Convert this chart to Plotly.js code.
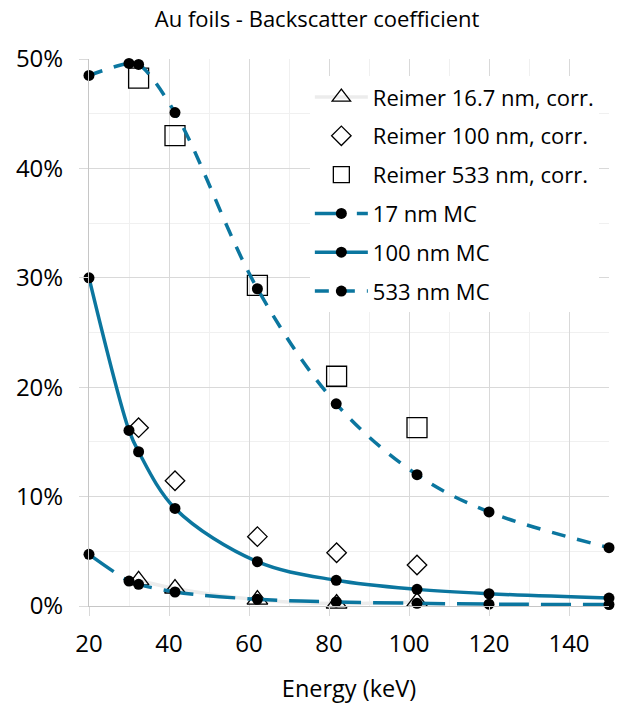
<!DOCTYPE html>
<html><head><meta charset="utf-8">
<script src="https://cdn.plot.ly/plotly-3.0.1.min.js"></script>
<style>html,body{margin:0;padding:0;background:#fff}</style>
</head><body>
<div id="chart" style="width:617px;height:706px"></div>
<script>
// Monte Carlo energies (keV)
const energyMC = [20, 30, 32.4, 41.5, 62.1, 81.8, 102, 120, 150];
const mc17  = [0.0472, 0.0228, 0.0198, 0.0128, 0.0061, 0.0037, 0.0025, 0.0017, 0.0013];
const mc100 = [0.300, 0.1605, 0.141, 0.0892, 0.0405, 0.0235, 0.0152, 0.0112, 0.0072];
const mc533 = [0.485, 0.496, 0.495, 0.451, 0.290, 0.1848, 0.120, 0.086, 0.0533];
// Reimer measurements (keV)
const energyReimer = [32.4, 41.5, 62.1, 81.9, 102];
const reimer16  = [0.0235, 0.016, 0.0058, 0.0022, 0.0038];
const reimer100 = [0.163, 0.1145, 0.0634, 0.0487, 0.0375];
const reimer533 = [0.4825, 0.430, 0.293, 0.210, 0.163];
const names = ['Reimer 16.7 nm, corr.', 'Reimer 100 nm, corr.', 'Reimer 533 nm, corr.', '17 nm MC', '100 nm MC', '533 nm MC'];
const xTicks = [20, 40, 60, 80, 100, 120, 140];

const blue = '#0B769F';
const FONT = 'Open Sans, sans-serif';
const mcMarker = {symbol: 'circle', size: 11, color: '#000000'};

const traces = [
  {x: energyReimer, y: reimer16, name: names[0], mode: 'lines+markers', legendgroup: 'a',
   line: {color: '#ececec', width: 3.5, shape: 'spline'},
   marker: {symbol: 'triangle-up-open', size: 18, color: '#000000', line: {width: 1.3, color: '#000000'}}},
  {x: energyReimer, y: reimer100, name: names[1], mode: 'markers', legendgroup: 'b',
   marker: {symbol: 'diamond-open', size: 15, color: '#000000', line: {width: 1.3, color: '#000000'}}},
  {x: energyReimer, y: reimer533, name: names[2], mode: 'markers', legendgroup: 'c',
   marker: {symbol: 'square-open', size: 20, color: '#000000', line: {width: 1.3, color: '#000000'}}},
  {x: energyMC, y: mc17, name: names[3], mode: 'lines+markers', legendgroup: 'd',
   line: {color: blue, width: 3.5, dash: '30px,12px', shape: 'spline'}, marker: mcMarker},
  {x: energyMC, y: mc100, name: names[4], mode: 'lines+markers', legendgroup: 'e',
   line: {color: blue, width: 3.5, shape: 'spline'}, marker: mcMarker},
  {x: energyMC, y: mc533, name: names[5], mode: 'lines+markers', legendgroup: 'f',
   line: {color: blue, width: 3.5, dash: '14px,12px', shape: 'spline'}, marker: mcMarker}
];
traces.forEach(t => t.cliponaxis = false);

const layout = {
  width: 617, height: 706,
  paper_bgcolor: '#ffffff', plot_bgcolor: '#ffffff',
  font: {family: FONT, color: '#000000', size: 22},
  margin: {l: 89, r: 8, t: 58.5, b: 99.5},
  title: {text: 'Au foils - Backscatter coefficient', font: {size: 22, family: FONT, color: '#000000'},
          x: 0.514, xref: 'container', xanchor: 'center', y: 0.972, yref: 'container', yanchor: 'middle'},
  xaxis: {
    range: [20, 150], tickvals: xTicks, ticktext: xTicks.map(String),
    showgrid: true, gridcolor: '#d9d9d9', gridwidth: 1,
    minor: {dtick: 10, tick0: 20, showgrid: true, gridcolor: '#f0f0f0', gridwidth: 1},
    ticks: 'outside', ticklen: 9, tickcolor: '#d9d9d9', tickwidth: 1,
    showline: true, linecolor: '#c6c6c6', linewidth: 1, zeroline: false,
    ticklabelstandoff: 7,
    tickfont: {size: 24, family: FONT, color: '#000000'},
    title: {text: 'Energy (keV)', font: {size: 23.5, family: FONT, color: '#000000'}, standoff: 22}
  },
  yaxis: {
    range: [0, 0.5], dtick: 0.1, tick0: 0, tickformat: '.0%',
    showgrid: true, gridcolor: '#d9d9d9', gridwidth: 1,
    minor: {dtick: 0.05, tick0: 0, showgrid: true, gridcolor: '#f0f0f0', gridwidth: 1},
    ticks: 'outside', ticklen: 9, tickcolor: '#d9d9d9', tickwidth: 1,
    showline: true, linecolor: '#c6c6c6', linewidth: 1, zeroline: false,
    ticklabelstandoff: 11,
    tickfont: {size: 24, family: FONT, color: '#000000'}
  },
  showlegend: true,
  legend: {x: 0.4247, xanchor: 'left', y: 0.9685, yanchor: 'top', bgcolor: '#ffffff', borderwidth: 0,
           traceorder: 'grouped', tracegroupgap: 7.2, itemwidth: 53,
           font: {size: 22, family: FONT, color: '#000000'}}
};

Plotly.newPlot('chart', traces, layout, {displayModeBar: false, responsive: false});
</script>
</body></html>
